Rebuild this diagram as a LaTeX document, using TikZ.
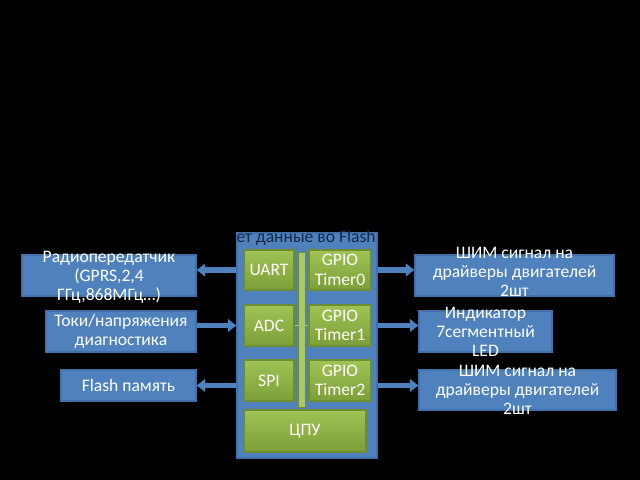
\documentclass[tikz,border=0pt]{standalone}
\usepackage{fontspec}
\setmainfont{Carlito}
\usetikzlibrary{arrows.meta}
\definecolor{officeblue}{RGB}{79,129,189}
\definecolor{officeblueline}{RGB}{66,112,168}
\definecolor{olivetop}{RGB}{160,195,85}
\definecolor{olivebottom}{RGB}{124,158,56}
\definecolor{oliveline}{RGB}{110,140,52}
\definecolor{buslight}{RGB}{170,200,100}
\definecolor{darknavy}{RGB}{22,40,70}
\tikzset{
  blk/.style={draw=officeblueline,fill=officeblue,line width=1pt,inner sep=0pt},
  unit/.style={draw=oliveline,top color=olivetop,bottom color=olivebottom,line width=0.8pt,
    inner sep=0pt,minimum width=1.25cm,minimum height=1cm,text=white,align=center,
    font=\fontsize{12.5}{13.8}\selectfont},
  label/.style={text=white,align=center,inner sep=0pt,font=\fontsize{12.5}{13.6}\selectfont},
  barrow/.style={officeblue,line width=3.6pt,-{Triangle[width=9pt,length=6pt]}},
}
\begin{document}
\begin{tikzpicture}[x=0.025cm,y=-0.025cm]
  \fill[black] (0,0) rectangle (640,480);

  % controller
  \node[blk,minimum width=3.5cm,minimum height=5.625cm] (mcu) at (307,345.5) {};
  \node[text=darknavy,anchor=east,inner sep=0pt,font=\fontsize{12.5}{13.8}\selectfont] (note) at (376,238) {ет данные во Flash};
  \node[draw=oliveline,fill=buslight,inner sep=0pt,minimum width=0.175cm,minimum height=3.875cm] (bus) at (301.5,329.5) {};

  \node[unit] (uart) at (269,270) {UART};
  \node[unit,minimum width=1.55cm] (tim0) at (340,270) {GPIO\\Timer0};
  \node[unit,minimum height=1.025cm] (adc) at (269,325.5) {ADC};
  \node[unit,minimum width=1.55cm,minimum height=1.025cm] (tim1) at (340,325.5) {GPIO\\Timer1};
  \node[unit,minimum height=1.025cm] (spi) at (269,380.5) {SPI};
  \node[unit,minimum width=1.55cm,minimum height=1.025cm] (tim2) at (340,380.5) {GPIO\\Timer2};
  \node[unit,minimum width=3.05cm,minimum height=1.05cm] (cpu) at (305,431) {ЦПУ};

  \draw[buslight,line width=1.2pt] (adc.east) -- (tim1.west);

  % left side
  \node[blk,minimum width=4.35cm,minimum height=1.025cm] (radio) at (109,275.5) {};
  \node[label] (radiotxt) at (109,277) {Радиопередатчик\\(GPRS,2,4\\ГГц,868МГц…)};
  \node[blk,minimum width=3.75cm,minimum height=1.025cm] (toki) at (121,331.5) {};
  \node[label] (tokitxt) at (toki) {Токи/напряжения\\диагностика};
  \node[blk,minimum width=3.375cm,minimum height=0.775cm] (flash) at (128.5,385.5) {};
  \node[label] (flashtxt) at (flash) {Flash память};

  % right side
  \node[blk,minimum width=4.975cm,minimum height=1.025cm] (pwma) at (514.5,275.5) {};
  \node[label] (pwmatxt) at (514.5,272) {ШИМ сигнал на\\драйверы двигателей\\2шт};
  \node[blk,minimum width=3.325cm,minimum height=1.025cm] (led) at (485.5,331.5) {};
  \node[label] (ledtxt) at (485.5,332) {Индикатор\\7сегментный\\LED};
  \node[blk,minimum width=4.925cm,minimum height=1cm] (pwmb) at (517.5,390) {};
  \node[label] (pwmbtxt) at (517.5,390) {ШИМ сигнал на\\драйверы двигателей\\2шт};

  % arrows
  \draw[barrow] (mcu.west |- uart) -- (radio.east |- uart);
  \draw[barrow] (toki.east |- adc) -- (mcu.west |- adc);
  \draw[barrow] (mcu.west |- flash) -- (flash.east);
  \draw[barrow] (mcu.east |- tim0) -- (pwma.west |- tim0);
  \draw[barrow] (mcu.east |- tim1) -- (led.west |- tim1);
  \draw[barrow] (mcu.east |- flash) -- (pwmb.west |- flash);
\end{tikzpicture}
\end{document}
